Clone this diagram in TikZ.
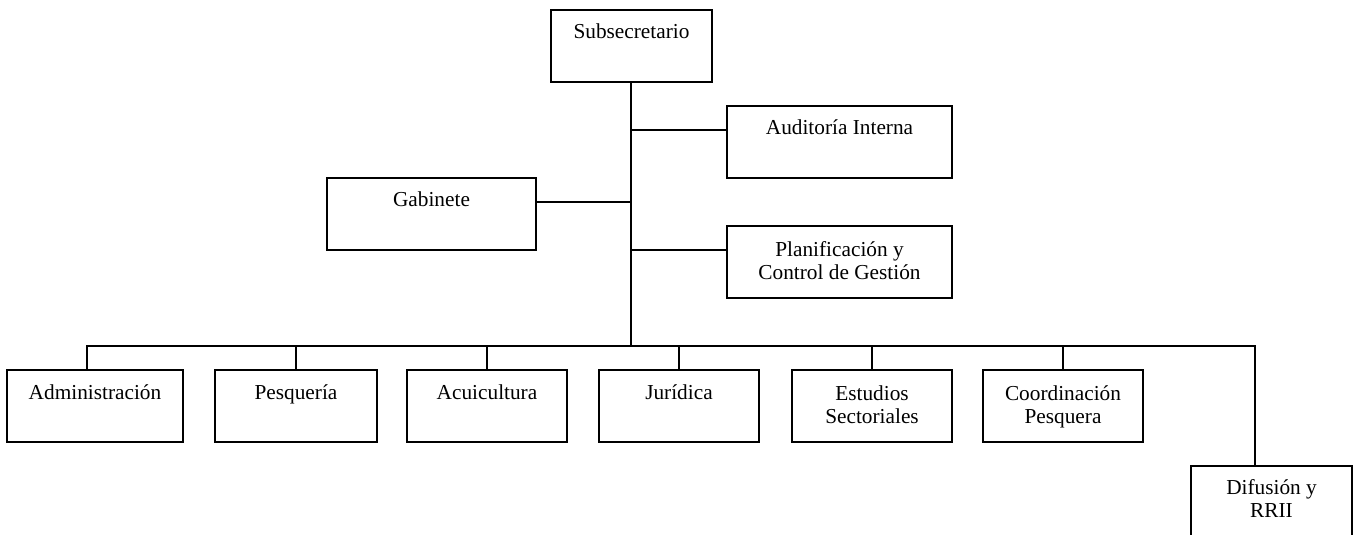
\documentclass[tikz,border=0pt]{standalone}
\usepackage{fontspec}
\setmainfont{Liberation Serif}
\tikzset{
  orgbox/.style={draw, line width=1.6pt, minimum height=72pt, inner sep=0pt},
  lbl/.style={font=\fontsize{21.3}{23}\selectfont, align=center, anchor=base, inner sep=0pt},
  conn/.style={line width=1.6pt, line join=miter},
}
\begin{document}
\begin{tikzpicture}[x=1pt,y=-1pt]
\useasboundingbox (0,0) rectangle (1354,535);
\clip (0,0) rectangle (1354,535);
% boxes
\node[orgbox, minimum width=161pt] (sub) at (631.5,46) {};
\node[orgbox, minimum width=225pt] (aud) at (839.5,142) {};
\node[orgbox, minimum width=209pt] (gab) at (431.5,214) {};
\node[orgbox, minimum width=225pt] (plan) at (839.5,262) {};
\node[orgbox, minimum width=176pt] (adm) at (95,406) {};
\node[orgbox, minimum width=162pt] (pes) at (296,406) {};
\node[orgbox, minimum width=160pt] (acu) at (487,406) {};
\node[orgbox, minimum width=160pt] (jur) at (679,406) {};
\node[orgbox, minimum width=160pt] (est) at (872,406) {};
\node[orgbox, minimum width=160pt] (coo) at (1063,406) {};
\node[orgbox, minimum width=161pt] (dif) at (1271.5,502) {};
% labels (two-line labels: base anchor is the last line)
\node[lbl] (subT) at ([yshift=-29pt]sub.north) {Subsecretario};
\node[lbl] (audT) at ([yshift=-29.5pt]aud.north) {Auditoría Interna};
\node[lbl] (gabT) at ([yshift=-29.5pt]gab.north) {Gabinete};
\node[lbl] (planT) at ([yshift=-54pt]plan.north) {Planificación y\\Control de Gestión};
\node[lbl] (admT) at ([yshift=-30.5pt]adm.north) {Administración};
\node[lbl] (pesT) at ([yshift=-30.5pt]pes.north) {Pesquería};
\node[lbl] (acuT) at ([yshift=-30.5pt]acu.north) {Acuicultura};
\node[lbl] (jurT) at ([yshift=-30.5pt]jur.north) {Jurídica};
\node[lbl] (estT) at ([yshift=-54pt]est.north) {Estudios\\Sectoriales};
\node[lbl] (cooT) at ([yshift=-54pt]coo.north) {Coordinación\\Pesquera};
\node[lbl] (difT) at ([yshift=-52pt]dif.north) {Difusión y\\RRII};
% connector points
\coordinate (busM) at (631,346);
\coordinate (busL) at (87,346);
\coordinate (busR) at (1255,346);
\coordinate (audc) at ([yshift=12pt]aud.west);
\coordinate (gabc) at ([yshift=12pt]gab.east);
\coordinate (planc) at ([yshift=12pt]plan.west);
% connectors
\draw[conn] (sub.south -| busM) -- (busM);
\draw[conn] (audc) -- (audc -| busM);
\draw[conn] (gabc) -- (gabc -| busM);
\draw[conn] (planc) -- (planc -| busM);
\draw[conn] (adm.north -| busL) -- (busL) -- (busR) -- (dif.north -| busR);
\draw[conn] (pes.north) -- (pes.north |- busL);
\draw[conn] (acu.north) -- (acu.north |- busL);
\draw[conn] (jur.north) -- (jur.north |- busL);
\draw[conn] (est.north) -- (est.north |- busL);
\draw[conn] (coo.north) -- (coo.north |- busL);
\end{tikzpicture}
\end{document}
